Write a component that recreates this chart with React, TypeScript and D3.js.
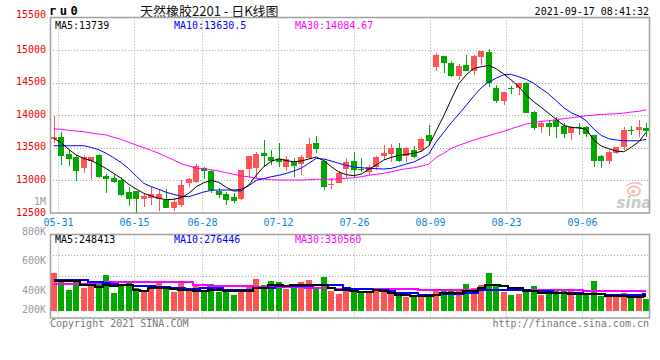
import React from "react";
import * as d3 from "d3";

const dates = ["05-28","05-31","06-01","06-02","06-03","06-04","06-07","06-08","06-09","06-10","06-11","06-15","06-16","06-17","06-18","06-21","06-22","06-23","06-24","06-25","06-28","06-29","06-30","07-01","07-02","07-05","07-06","07-07","07-08","07-09","07-12","07-13","07-14","07-15","07-16","07-19","07-20","07-21","07-22","07-23","07-26","07-27","07-28","07-29","07-30","08-02","08-03","08-04","08-05","08-06","08-09","08-10","08-11","08-12","08-13","08-16","08-17","08-18","08-19","08-20","08-23","08-24","08-25","08-26","08-27","08-30","08-31","09-01","09-02","09-03","09-06","09-07","09-08","09-09","09-10","09-13","09-14","09-15","09-16","09-17"];

const opens = [13640,13661,13405,13354,13195,13302,13390,13067,13041,13006,
  12827,12842,12715,12725,12715,12700,12581,12623,12955,12971,
  13190,13149,12837,12791,12750,12710,13175,13190,13416,13364,
  13328,13210,13287,13252,13339,13579,13302,12929,12965,13175,
  13298,13180,13134,13201,13379,13405,13492,13374,13466,13466,
  13696,14744,14908,14795,14606,14770,14683,14888,14974,14412,
  14222,14412,14412,14489,14054,13814,13885,13926,13834,13722,
  13814,13824,13696,13374,13302,13416,13508,13773,13773,13809];
const highs = [13988,13738,13466,13390,13390,13364,13405,13098,13083,13047,
  12903,12842,12811,12903,12863,12868,12725,13006,13032,13252,
  13210,13160,12879,12827,12802,13160,13374,13441,13620,13470,
  13579,13374,13339,13390,13646,13681,13324,13032,13149,13339,
  13441,13339,13236,13374,13543,13558,13579,13517,13528,13655,
  13850,14949,14908,14836,14785,14923,14923,14985,15011,14463,
  14361,14448,14499,14514,14069,13916,13926,13977,13876,13834,
  13885,13834,13696,13390,13466,13508,13814,13834,13926,13876];
const lows = [13569,13236,13225,12995,13109,13006,13032,12811,12965,12761,
  12607,12490,12588,12623,12535,12581,12535,12597,12903,12955,
  13017,12802,12725,12623,12649,12700,13032,13032,13210,13230,
  13210,13144,13047,13083,13324,13425,12853,12863,12955,13032,
  13032,13134,13083,13160,13313,13287,13287,13287,13348,13441,
  13530,14683,14642,14581,14540,14683,14617,14770,14437,14192,
  14156,14325,14310,14038,13773,13732,13681,13646,13646,13620,
  13696,13670,13201,13195,13252,13405,13466,13696,13670,13670];
const closes = [13660,13379,13328,13149,13364,13354,13057,13021,12980,12776,
  12715,12715,12761,12791,12791,12581,12664,12929,13017,13221,
  13149,12853,12776,12700,12689,13160,13374,13410,13379,13298,
  13287,13328,13226,13364,13558,13482,12903,12950,13118,13287,
  13160,13160,13201,13364,13425,13492,13302,13492,13364,13640,
  13604,14923,14805,14606,14754,14683,14908,14985,14489,14222,
  14361,14397,14489,14038,13799,13876,13824,13824,13707,13814,
  13799,13707,13302,13302,13441,13508,13773,13762,13814,13762];

const ma5 = [13645,13579,13476,13390,13338,13303,13246,13180,13108,13032,
  12940,12868,12802,12761,12725,12705,12710,12735,12802,12904,
  12965,13001,12970,12894,12837,12842,12929,13080,13211,13292,
  13333,13303,13287,13298,13328,13359,13303,13211,13129,13088,
  13073,13098,13170,13236,13313,13354,13384,13400,13415,13446,
  13530,13763,13993,14243,14483,14621,14719,14744,14765,14713,
  14632,14540,14437,14310,14207,14121,14029,13937,13845,13814,
  13804,13784,13620,13528,13486,13451,13440,13508,13594,13739];
const ma10 = [13532,13532,13532,13532,13532,13507,13471,13415,13348,13272,
  13180,13067,12955,12904,12863,12817,12786,12756,12750,12786,
  12822,12848,12853,12853,12853,12863,12919,13001,13027,13057,
  13078,13108,13144,13190,13262,13338,13328,13298,13262,13231,
  13206,13195,13185,13180,13175,13185,13216,13252,13282,13340,
  13405,13594,13737,13885,14018,14151,14294,14422,14509,14570,
  14621,14627,14591,14550,14489,14407,14325,14223,14115,14039,
  13988,13916,13788,13691,13640,13620,13609,13609,13609,13630.5];
const ma30 = [13793,13784,13768,13758,13747,13727,13712,13696,13661,13630,
  13584,13543,13502,13462,13416,13364,13313,13256,13221,13186,
  13175,13164,13144,13118,13094,13067,13057,13032,13021,13011,
  13006,13006,13006,13006,13011,13017,13017,13017,13026,13032,
  13041,13057,13078,13094,13109,13133,13159,13179,13195,13218,
  13250,13354,13415,13492,13538,13579,13620,13655,13686,13722,
  13753,13793,13829,13865,13885,13906,13916,13931,13947,13962,
  13977,13993,14003,14013,14018,14023,14034,14049,14060,14084.67];

// volumes in thousands
const volumesK = [641,500,352,539,386,488,454,607,301,442,
  488,386,357,425,488,403,318,488,357,425,
  335,454,318,369,267,369,425,539,432,505,
  488,369,398,488,522,369,573,335,284,352,
  369,318,318,369,347,318,301,233,267,245,
  272,369,340,340,330,454,386,437,641,442,
  318,267,284,357,420,267,301,352,330,335,
  267,267,505,255,255,255,301,216,284,199];
const volMa5K = [500,500,500,500,442,442,403,442,415,432,
  432,357,330,386,386,386,374,357,357,330,
  330,357,357,340,340,340,340,386,386,442,
  442,415,432,432,437,442,442,386,357,357,
  340,318,318,357,330,301,272,272,255,244,
  244,272,301,301,301,330,330,386,442,442,
  415,386,386,330,330,301,301,301,301,289,
  289,284,284,284,245,245,245,240,240,248.413];
const volMa10K = [517,517,517,517,517,488,480,471,455,442,
  442,415,415,415,403,403,386,386,369,369,
  381,381,381,357,357,357,357,386,386,386,
  415,415,415,415,415,432,432,432,432,386,
  369,369,369,352,352,330,301,301,301,272,
  272,272,284,284,284,301,301,357,357,357,
  357,357,357,357,340,340,340,301,301,301,
  295,289,289,289,272,272,272,272,272,276.446];
const volMa30K = [459,459,459,459,459,459,470,483,483,483,
  483,483,483,483,483,483,483,483,483,442,
  442,425,425,425,415,415,415,398,398,398,
  398,398,398,398,386,386,386,386,374,374,
  374,374,374,370,370,370,370,364,364,347,
  347,347,347,347,347,347,347,347,347,347,
  347,345,345,345,345,345,345,345,345,345,
  345,340,340,340,340,335,335,335,335,330.56];

const xTickDates = ["05-31","06-15","06-28","07-12","07-26","08-09","08-23","09-06"];
const priceTicks = [15500,15000,14500,14000,13500,13000,12500];
const volTicksK = [800,600,400,200];
const volTickLabels = ["800K","600K","400K","200K"];

const symbol = "ru0";
const title = "天然橡胶2201 - 日K线图";
const timestamp = "2021-09-17 08:41:32";

const RED = "#ff5454";
const GREEN = "#00a800";
const GRID = "#a8a8a8";
const BORDER = "#a0a0a0";
const MONO = "'DejaVu Sans Mono', monospace";

const L = 50, R = 650;
const PT = 17.5, PB = 213;
const VT = 234.5, VB = 318, VBASE = 310.7;

export default function App() {
  const xBand = d3.scaleBand<string>().domain(dates).range([L, R]);
  const xPoint = d3.scalePoint<string>().domain(dates).range([L, R]);
  const yPrice = d3.scaleLinear().domain([12500, 15500]).range([PB, PT]);
  const yVol = d3.scaleLinear().domain([0, 1292]).range([VBASE, VT]);
  const yVolLabel = d3.scaleLinear().domain([400, 800]).range([290, 231]);
  const bw = xBand.bandwidth();
  const cx = (i: number) => (xBand(dates[i]) as number) + bw / 2;
  const bodyW = 6;

  const priceLine = (arr: number[]) =>
    d3.line<number>().x((_, i) => cx(i)).y((v) => yPrice(v))(arr) || "";
  const volLine = (arr: number[]) =>
    d3.line<number>().x((_, i) => cx(i)).y((v) => yVol(v)).curve(d3.curveStep)(arr) || "";

  const gridX = xTickDates.map((d) => Math.round(xPoint(d) as number) + 0.5);
  const priceGridY = priceTicks.slice(1, -1).map((p) => Math.round(yPrice(p)) + 0.5);
  const volGridY = d3.range(1, 4).map((k) => Math.round(VT + ((VB - VT) * k) / 4) + 0.5);

  const fmt = (v: number) => String(v);

  return (
    <svg width={660} height={360} style={{ position: "absolute", left: 0, top: 0, background: "#fff" }}
      fontFamily={MONO}>
      <rect x={0} y={0} width={660} height={360} fill="#fff" />
      {/* header */}
      <text x={49} y={10.5} fontSize={12} fontWeight="bold" letterSpacing={3.5} dominantBaseline="central" fill="#000">{symbol}</text>
      <text x={140} y={10} fontSize={13} fontFamily="'Noto Sans CJK SC', sans-serif" dominantBaseline="central" fill="#111">{title}</text>
      <text x={649} y={11.5} fontSize={10} textAnchor="end" dominantBaseline="central" fill="#000">{timestamp}</text>

      {/* price grid */}
      {priceGridY.map((y, i) => (
        <line key={"pg" + i} x1={L} x2={R} y1={y} y2={y} stroke={GRID} strokeDasharray="1 2" />
      ))}
      {gridX.map((x, i) => (
        <line key={"pgx" + i} x1={x} x2={x} y1={PT} y2={PB} stroke={GRID} strokeDasharray="1 2" />
      ))}
      {/* volume grid */}
      {volGridY.map((y, i) => (
        <line key={"vg" + i} x1={L} x2={R} y1={y} y2={y} stroke={GRID} strokeDasharray="1 2" />
      ))}
      {gridX.map((x, i) => (
        <line key={"vgx" + i} x1={x} x2={x} y1={VT} y2={VB} stroke={GRID} strokeDasharray="1 2" />
      ))}

      {/* sina logo */}
      <g opacity={0.75}>
        <ellipse cx={634} cy={191} rx={6} ry={4.5} fill="none" stroke="#f4a6a6" strokeWidth={2} />
        <circle cx={633} cy={191.5} r={2} fill="#f4a6a6" />
        <path d="M626,186 Q634,180 642,185" fill="none" stroke="#f4a6a6" strokeWidth={1.5} />
        <text x={634} y={203} fontSize={15} fontWeight="bold" fontStyle="italic" fontFamily="'DejaVu Sans', sans-serif"
          textAnchor="middle" dominantBaseline="central" fill="#b8b8b8">sina</text>
      </g>

      {/* candles */}
      {dates.map((d, i) => {
        const up = closes[i] >= opens[i];
        const col = up ? RED : GREEN;
        const left = Math.round((xBand(d) as number) + (bw - bodyW) / 2);
        const wx = left + bodyW / 2;
        const yTop = Math.round(yPrice(Math.max(opens[i], closes[i])));
        const yBot = Math.round(yPrice(Math.min(opens[i], closes[i])));
        return (
          <g key={"c" + i} shapeRendering="crispEdges">
            <line x1={wx} x2={wx} y1={yPrice(highs[i])} y2={yPrice(lows[i])} stroke={col} strokeWidth={1} />
            <rect x={left} y={yTop} width={bodyW} height={Math.max(1, yBot - yTop)} fill={col} />
          </g>
        );
      })}

      {/* price MA lines */}
      <path d={priceLine(ma30)} fill="none" stroke="#ff00ff" strokeWidth={1} />
      <path d={priceLine(ma10)} fill="none" stroke="#0000ff" strokeWidth={1} />
      <path d={priceLine(ma5)} fill="none" stroke="#000" strokeWidth={1} />

      {/* volume bars */}
      {dates.map((d, i) => {
        const up = closes[i] >= opens[i];
        const left = Math.round((xBand(d) as number) + (bw - bodyW) / 2);
        const y = Math.round(yVol(volumesK[i]));
        return <rect key={"v" + i} x={left} y={y} width={bodyW} height={Math.round(VBASE) - y}
          fill={up ? RED : GREEN} shapeRendering="crispEdges" />;
      })}
      <path d={volLine(volMa30K)} fill="none" stroke="#ff00ff" strokeWidth={2} shapeRendering="crispEdges" />
      <path d={volLine(volMa10K)} fill="none" stroke="#0000ff" strokeWidth={2} shapeRendering="crispEdges" />
      <path d={volLine(volMa5K)} fill="none" stroke="#000" strokeWidth={2} shapeRendering="crispEdges" />

      {/* borders */}
      <rect x={L + 0.5} y={PT} width={R - L - 1} height={PB - PT} fill="none" stroke={BORDER} strokeWidth={1.5} />
      <rect x={L + 0.5} y={VT} width={R - L - 1} height={VB - VT} fill="none" stroke={BORDER} strokeWidth={1.5} />

      {/* price axis labels */}
      {priceTicks.map((p, i) => {
        let y = yPrice(p) - 1;
        if (i === 0) y -= 2;
        return (
          <text key={"pt" + i} x={46} y={y} fontSize={10} textAnchor="end" dominantBaseline="central" fill="#ee0000">{p}</text>
        );
      })}
      <text x={46} y={201} fontSize={10} textAnchor="end" dominantBaseline="central" fill="#999">1M</text>

      {/* volume axis labels */}
      {volTicksK.map((v, i) => (
        <text key={"vt" + i} x={46} y={Math.min(yVolLabel(v), 309)} fontSize={10} textAnchor="end"
          dominantBaseline="central" fill="#999">{volTickLabels[i]}</text>
      ))}

      {/* x labels */}
      {xTickDates.map((d, i) => (
        <text key={"xl" + i} x={gridX[i]} y={222} fontSize={10} textAnchor="middle" dominantBaseline="central" fill="#0a84d6">{d}</text>
      ))}

      {/* MA legends */}
      <text x={55} y={25} fontSize={10} dominantBaseline="central" fill="#000">{"MA5:" + fmt(ma5[ma5.length - 1])}</text>
      <text x={174} y={25} fontSize={10} dominantBaseline="central" fill="#0000ff">{"MA10:" + fmt(ma10[ma10.length - 1])}</text>
      <text x={295} y={25} fontSize={10} dominantBaseline="central" fill="#ff00ff">{"MA30:" + fmt(ma30[ma30.length - 1])}</text>

      <text x={55} y={239.5} fontSize={10} dominantBaseline="central" fill="#000">{"MA5:" + Math.round(volMa5K[79] * 1000)}</text>
      <text x={174} y={239.5} fontSize={10} dominantBaseline="central" fill="#0000ff">{"MA10:" + Math.round(volMa10K[79] * 1000)}</text>
      <text x={295} y={239.5} fontSize={10} dominantBaseline="central" fill="#ff00ff">{"MA30:" + Math.round(volMa30K[79] * 1000)}</text>

      {/* footer */}
      <text x={50} y={323.5} fontSize={10} dominantBaseline="central" fill="#777">Copyright 2021 SINA.COM</text>
      <text x={649} y={323.5} fontSize={10} textAnchor="end" dominantBaseline="central" fill="#777">http://finance.sina.com.cn</text>
    </svg>
  );
}
